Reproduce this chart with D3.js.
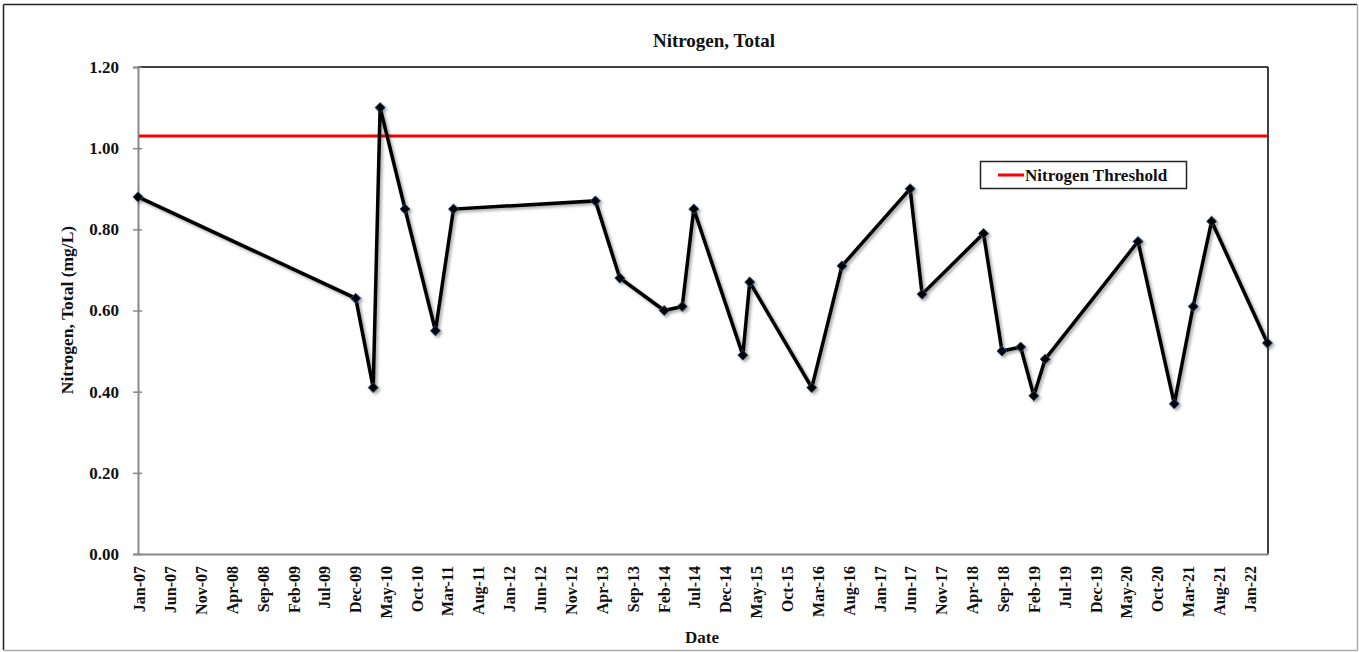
<!DOCTYPE html>
<html>
<head>
<meta charset="utf-8">
<script src="https://cdn.jsdelivr.net/npm/d3@7"></script>
<style>
	body { margin: 0; background: #fff; }
	text { font-family: "Liberation Serif", "Times New Roman", serif; font-weight: bold; fill: #111; }
</style>
</head>
<body>
<div id="chart"></div>
<script>
// sample dates and measured values
var sampleDates = ['2007-01-01', '2009-12-10', '2010-03-06', '2010-04-09', '2010-08-10', '2011-01-07',
	'2011-04-06', '2013-03-06', '2013-07-04', '2014-02-08', '2014-05-08', '2014-07-04',
	'2015-03-03', '2015-04-06', '2016-02-06', '2016-07-04', '2017-06-05', '2017-08-03',
	'2018-06-02', '2018-09-01', '2018-12-02', '2019-02-05', '2019-04-02', '2020-07-03',
	'2020-12-29', '2021-04-01', '2021-07-01', '2022-04-02']
var nitrogenValues = [0.88, 0.63, 0.41, 1.10, 0.85, 0.55,
	0.85, 0.87, 0.68, 0.60, 0.61, 0.85,
	0.49, 0.67, 0.41, 0.71, 0.90, 0.64,
	0.79, 0.50, 0.51, 0.39, 0.48, 0.77,
	0.37, 0.61, 0.82, 0.52]
var thresholdValue = 1.03
var yTicks = [0, 0.2, 0.4, 0.6, 0.8, 1.0, 1.2]
var xStart = '2007-01-01', xEnd = '2022-04-05'
var tickEveryMonths = 5

var W = 1359, H = 652
var margin = { left: 138, top: 67, right: 1268, bottom: 554 }

var parse = d3.timeParse('%Y-%m-%d')
var data = sampleDates.map((d, i) => ({ date: parse(d), value: nitrogenValues[i] }))

var svg = d3.select('#chart').append('svg')
	.attr('width', W)
	.attr('height', H)

// drop shadow used by the series (Excel style)
var defs = svg.append('defs')
var f = defs.append('filter').attr('id', 'shadow')
	.attr('x', '-5%').attr('y', '-5%').attr('width', '110%').attr('height', '110%')
f.append('feDropShadow')
	.attr('dx', 2).attr('dy', 2)
	.attr('stdDeviation', 1.5)
	.attr('flood-color', '#000')
	.attr('flood-opacity', 0.35)

// outer chart border
svg.append('line').attr('x1', 3.5).attr('y1', 4.5).attr('x2', 1357).attr('y2', 4.5)
	.attr('stroke', '#222').attr('stroke-width', 1.5)
svg.append('line').attr('x1', 3.5).attr('y1', 4.5).attr('x2', 3.5).attr('y2', 650)
	.attr('stroke', '#222').attr('stroke-width', 1.5)
svg.append('line').attr('x1', 1357.5).attr('y1', 4.5).attr('x2', 1357.5).attr('y2', 650.5)
	.attr('stroke', '#aaa').attr('stroke-width', 1.5)
svg.append('line').attr('x1', 3.5).attr('y1', 650.5).attr('x2', 1357.5).attr('y2', 650.5)
	.attr('stroke', '#aaa').attr('stroke-width', 1.5)

var x = d3.scaleTime()
	.domain([parse(xStart), parse(xEnd)])
	.range([margin.left, margin.right])
var y = d3.scaleLinear()
	.domain([0, 1.2])
	.range([margin.bottom, margin.top])

// plot frame: top & right black
svg.append('line').attr('x1', margin.left).attr('y1', margin.top).attr('x2', margin.right).attr('y2', margin.top)
	.attr('stroke', '#000').attr('stroke-width', 1.5)
svg.append('line').attr('x1', margin.right).attr('y1', margin.top).attr('x2', margin.right).attr('y2', margin.bottom)
	.attr('stroke', '#000').attr('stroke-width', 1.5)

// y axis
var yAxis = svg.append('g')
	.attr('transform', `translate(${margin.left},0)`)
	.call(d3.axisLeft(y).tickValues(yTicks).tickFormat(d3.format('.2f')).tickSize(5).tickPadding(14))
yAxis.select('.domain').attr('stroke', '#888').attr('stroke-width', 2)
yAxis.selectAll('.tick line').attr('stroke', '#888').attr('stroke-width', 1.5).attr('x2', -5).attr('x1', 4)
yAxis.selectAll('.tick text')
	.style('font-family', '"Liberation Serif", serif')
	.style('font-weight', 'bold')
	.style('font-size', '17px')
	.attr('fill', '#111')

// x axis: a label every 5 months counted from the start (not reset each year)
var xTickDates = []
for (var d = parse(xStart); d <= parse(xEnd); d = d3.timeMonth.offset(d, tickEveryMonths)) xTickDates.push(d)
var xAxis = svg.append('g')
	.attr('transform', `translate(0,${margin.bottom})`)
	.call(d3.axisBottom(x).tickValues(xTickDates).tickFormat(d3.timeFormat('%b-%y')).tickSize(0))
xAxis.select('.domain').attr('stroke', '#888').attr('stroke-width', 2)
xAxis.selectAll('.tick text')
	.style('font-family', '"Liberation Serif", serif')
	.style('font-weight', 'bold')
	.style('font-size', '16px')
	.attr('fill', '#111')
	.attr('text-anchor', 'end')
	.attr('transform', 'rotate(-90)')
	.attr('x', -12)
	.attr('y', 1)
	.attr('dy', '0.35em')

// threshold line
svg.append('line')
	.attr('x1', margin.left + 1).attr('x2', margin.right - 1)
	.attr('y1', y(thresholdValue)).attr('y2', y(thresholdValue))
	.attr('stroke', '#ff0000').attr('stroke-width', 3)

// series
var line = d3.line().x(d => x(d.date)).y(d => y(d.value))
var series = svg.append('g').attr('filter', 'url(#shadow)')
series.append('path')
	.datum(data)
	.attr('d', line)
	.attr('fill', 'none')
	.attr('stroke', '#000')
	.attr('stroke-width', 3.5)
	.attr('stroke-linejoin', 'miter')
series.selectAll('path.marker')
	.data(data)
	.enter().append('path')
	.attr('class', 'marker')
	.attr('d', d3.symbol().type(d3.symbolDiamond2).size(64))
	.attr('transform', d => `translate(${x(d.date)},${y(d.value)})`)
	.attr('fill', '#000')
	.attr('stroke', '#2e4a78')
	.attr('stroke-width', 1)

// title
svg.append('text')
	.attr('x', 714).attr('y', 47)
	.attr('text-anchor', 'middle')
	.style('font-size', '19px')
	.text('Nitrogen, Total')

// axis titles
svg.append('text')
	.attr('transform', 'translate(73,310) rotate(-90)')
	.attr('text-anchor', 'middle')
	.style('font-size', '17.5px')
	.text('Nitrogen, Total (mg/L)')
svg.append('text')
	.attr('x', 702).attr('y', 643)
	.attr('text-anchor', 'middle')
	.style('font-size', '17px')
	.text('Date')

// legend
var legend = svg.append('g')
legend.append('rect')
	.attr('x', 980.5).attr('y', 161.5).attr('width', 206).attr('height', 27)
	.attr('fill', '#fff').attr('stroke', '#222').attr('stroke-width', 1.5)
legend.append('line')
	.attr('x1', 998).attr('x2', 1024).attr('y1', 175).attr('y2', 175)
	.attr('stroke', '#ff0000').attr('stroke-width', 3)
legend.append('text')
	.attr('x', 1025).attr('y', 181)
	.style('font-size', '17px')
	.text('Nitrogen Threshold')
</script>
</body>
</html>
